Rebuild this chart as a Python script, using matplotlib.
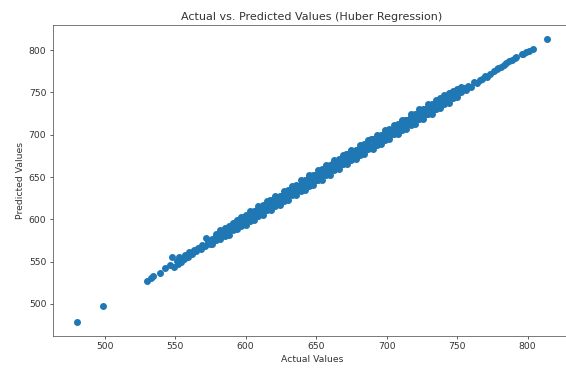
import matplotlib
matplotlib.use("Agg")
import matplotlib.pyplot as plt

# actual vs predicted values
actual = [480, 499, 530, 533, 534, 539, 543, 546, 548, 549, 551, 552, 553, 554, 556, 557, 559, 560,
          562, 563, 565, 566, 568, 569, 571, 572, 573, 575, 576, 578, 579, 581, 582, 584, 585, 587,
          588, 590, 591, 592, 593, 594, 595, 596, 597, 598, 599, 600, 601, 602, 603, 604, 605, 606,
          607, 608, 609, 610, 611, 612, 613, 614, 615, 616, 617, 618, 619, 620, 621, 622, 623, 624,
          625, 626, 627, 628, 629, 630, 631, 632, 633, 634, 635, 636, 637, 638, 639, 640, 641, 642,
          643, 644, 645, 646, 647, 648, 649, 650, 651, 652, 653, 654, 655, 656, 657, 658, 659, 660,
          661, 662, 663, 664, 665, 666, 667, 668, 669, 670, 671, 672, 673, 674, 675, 676, 677, 678,
          679, 680, 681, 682, 683, 684, 685, 686, 687, 688, 689, 690, 691, 692, 693, 694, 695, 696,
          697, 698, 699, 700, 701, 702, 703, 704, 705, 706, 707, 708, 709, 710, 711, 712, 713, 714,
          715, 716, 717, 718, 719, 720, 721, 722, 723, 724, 725, 726, 727, 728, 729, 730, 731, 732,
          733, 734, 735, 736, 737, 738, 739, 740, 741, 742, 743, 744, 745, 746, 747, 748, 749, 750,
          752, 753, 755, 756, 758, 760, 762, 764, 766, 768, 770, 771, 773, 776, 778, 779, 781, 783,
          785, 787, 789, 791, 792, 796, 797, 799, 801, 804, 814,
          # points along the lower and upper edge of the band
          576, 582, 588, 594, 600, 606, 612, 618, 624, 630, 636, 642, 648, 654, 660, 666, 672, 678,
          684, 690, 696, 702, 708, 714, 720, 726, 732, 738, 744, 750,
          579, 585, 591, 597, 603, 609, 615, 621, 627, 633, 639, 645, 651, 657, 663, 669, 675, 681,
          687, 693, 699, 705, 711, 717, 723, 729, 735, 741, 747, 753,
          579, 585, 591, 597, 603, 609, 615, 621, 627, 633, 639, 645, 651, 657, 663, 669, 675, 681,
          687, 693, 699, 705, 711, 717, 723, 729, 735, 741, 747,
          582, 588, 594, 600, 606, 612, 618, 624, 630, 636, 642, 648, 654, 660, 666, 672, 678, 684,
          690, 696, 702, 708, 714, 720, 726, 732, 738, 744, 750]
predicted = [479, 497.5, 527, 531, 533.5, 536.5, 543, 546, 555, 544, 551, 547, 555, 550, 553, 558, 556, 561,
             559, 564, 562, 566, 565, 570, 568, 578, 573, 571, 577, 576, 580, 578, 584, 582, 586, 584,
             590, 588, 595, 589, 597, 592, 599, 594, 598, 596, 603, 599, 604, 600, 606, 602, 608, 604,
             610, 606, 612, 607, 614, 610, 615, 611, 617, 614, 623, 615, 620, 618, 625, 619, 626, 621,
             628, 623, 630, 625, 632, 628, 634, 630, 636, 631, 638, 633, 640, 636, 641, 637, 645, 639,
             647, 641, 650, 643, 651, 645, 652, 647, 654, 649, 656, 651, 658, 654, 660, 655, 662, 658,
             665, 659, 666, 661, 668, 663, 670, 665, 673, 667, 677, 669, 676, 671, 678, 673, 680, 676,
             682, 677, 684, 680, 686, 681, 688, 684, 691, 685, 695, 687, 693, 689, 696, 691, 698, 694,
             700, 695, 702, 697, 704, 700, 706, 701, 708, 703, 710, 705, 713, 707, 716, 709, 718, 711,
             717, 713, 721, 715, 722, 718, 724, 719, 726, 721, 727, 723, 730, 725, 732, 727, 734, 729,
             736, 731, 737, 733, 739, 735, 741, 737, 744, 739, 746, 742, 749, 744, 750, 745, 752, 748,
             753, 750, 755, 753, 758, 757, 762, 761, 765, 766, 770, 768, 772, 775, 778, 779, 780, 782,
             785, 787, 789, 791, 792, 796, 795, 798, 799, 802, 813,
             571, 577, 582, 588, 593, 599, 605, 611, 617, 623, 629, 635, 641, 647, 653, 659, 665, 671,
             677, 683, 689, 695, 701, 707, 713, 719, 725, 732, 738, 745,
             583, 590, 596, 603, 610, 616, 622, 628, 634, 640, 646, 652, 658, 664, 670, 676, 682, 688,
             694, 700, 706, 712, 718, 724, 730, 736, 741, 747, 752, 757,
             575, 580, 587, 592, 598, 604, 611, 616, 622, 629, 634, 640, 647, 652, 658, 665, 670, 676,
             683, 688, 694, 701, 706, 712, 719, 724, 731, 736, 743,
             587, 592, 599, 605, 610, 617, 623, 628, 635, 641, 646, 653, 659, 664, 671, 677, 682, 689,
             695, 700, 707, 713, 718, 725, 731, 736, 743, 749, 754]

plt.rcParams["font.size"] = 6.7
plt.rcParams["axes.linewidth"] = 0.55
plt.rcParams["xtick.major.width"] = 0.55
plt.rcParams["ytick.major.width"] = 0.55
plt.rcParams["xtick.major.size"] = 2.4
plt.rcParams["ytick.major.size"] = 2.4
plt.rcParams["xtick.major.pad"] = 2.4
plt.rcParams["ytick.major.pad"] = 2.4

fig = plt.figure(figsize=(5.66, 3.69), dpi=100)
# right part of the original figure is cut off, so the axes run past the edge
ax = fig.add_axes([0.0936, 0.090, 0.915, 0.842])
ax.scatter(actual, predicted, s=16, color="#1f77b4")
ax.set_xlim(463.3, 830.7)
ax.set_ylim(462.3, 829.7)
ax.set_xlabel("Actual Values", labelpad=2.5, color="#333333")
ax.set_ylabel("Predicted Values", labelpad=2.5, color="#333333")
ax.set_title("Actual vs. Predicted Values (Huber Regression)", fontsize=8, pad=4, color="#333333")
ax.tick_params(colors="#333333")
for sp in ax.spines.values():
    sp.set_color("#555555")
ax.spines["right"].set_visible(False)

fig.savefig("out.png", dpi=100)
